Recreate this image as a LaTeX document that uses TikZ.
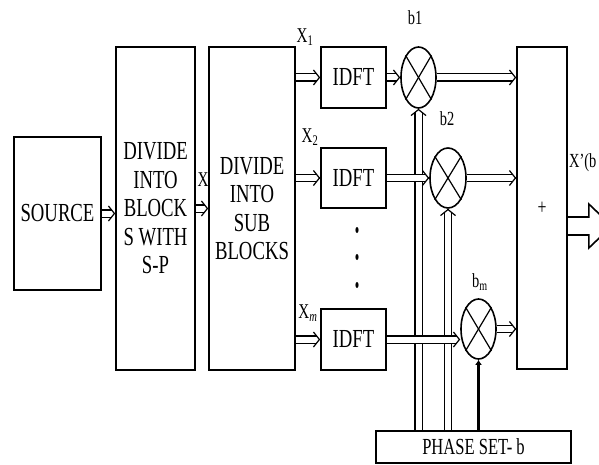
\documentclass[tikz,border=0pt]{standalone}
\usepackage{fontspec}
\setmainfont{Liberation Serif}[FakeStretch=0.72]
\usetikzlibrary{arrows.meta,shapes.geometric,calc}
\tikzset{
  dl/.style={double,line width=1.2pt,double distance=6pt,shorten >=3pt},
  chev/.style={line width=1.2pt,-{Straight Barb[length=6pt,width=15pt]}}
}
\newcommand\darrow[2]{%
  \draw[dl] (#1) -- (#2);
  \draw[chev] ($(#2)!0.2pt!(#1)$) -- (#2);}
\begin{document}
\begin{tikzpicture}[x=1pt,y=-1pt,
  blk/.style={draw,line width=1.6pt,rectangle,inner sep=0pt,align=center,font=\fontsize{26}{28.5}\selectfont},
  mul/.style={draw,line width=1.6pt,ellipse,inner sep=0pt},
  lbl/.style={inner sep=0pt,font=\fontsize{21}{22}\selectfont},
  blbl/.style={inner sep=0pt,font=\fontsize{20}{22}\selectfont}]
\useasboundingbox (0,0) rectangle (599,465);
% blocks
\node[blk,minimum width=87pt,minimum height=153pt] (src) at (57.5,213.5) {SOURCE};
\node[blk,minimum width=79pt,minimum height=323pt] (blocks) at (155.5,208.5) {DIVIDE\\INTO\\BLOCK\\S WITH\\S-P};
\node[blk,minimum width=86pt,minimum height=323pt] (sub) at (252,208.5) {DIVIDE\\INTO\\SUB\\BLOCKS};
\node[blk,minimum width=65pt,minimum height=61pt] (idft1) at (353.5,77.5) {IDFT};
\node[blk,minimum width=65pt,minimum height=60pt] (idft2) at (353.5,178) {IDFT};
\node[blk,minimum width=65pt,minimum height=61pt] (idftm) at (353.5,339.5) {IDFT};
\node[mul,minimum width=35pt,minimum height=61pt] (b1) at (418.5,77.5) {};
\node[mul,minimum width=36pt,minimum height=60pt] (b2) at (448,178) {};
\node[mul,minimum width=35pt,minimum height=60pt] (bm) at (478.5,329) {};
\node[blk,minimum width=50pt,minimum height=322pt,font=\fontsize{22}{24}\selectfont] (plus) at (542,208) {+};
\node[blk,minimum width=195pt,minimum height=32pt,font=\fontsize{23}{24}\selectfont] (phase) at (473.5,447) {PHASE SET- b};
% crosses
\foreach \m in {b1,b2,bm}{
  \draw[line width=1.2pt] (\m.north west) -- (\m.south east);
  \draw[line width=1.2pt] (\m.north east) -- (\m.south west);
}
% dots
\fill (357,230) ellipse (1.6pt and 3pt);
\fill (357,257) ellipse (1.6pt and 3pt);
\fill (357,285) ellipse (1.6pt and 3pt);
% phase lines
\coordinate (p1) at (phase.north -| b1.south);
\coordinate (p2) at (phase.north -| b2.south);
\darrow{p1}{b1.south}
\darrow{p2}{b2.south}
\draw[line width=3.5pt,-{Latex[length=5pt,width=7pt]}] (phase.north -| bm.south) -- (bm.south);
% arrows
\coordinate (s0) at (blocks.west |- src.east);
\coordinate (s1) at (sub.east |- idft1.west);
\coordinate (s2) at (sub.east |- idft2.west);
\coordinate (sm) at (sub.east |- idftm.west);
\coordinate (em) at (idftm.east -| bm.west);
\coordinate (q1) at (plus.west |- b1.east);
\coordinate (q2) at (plus.west |- b2.east);
\coordinate (qm) at (plus.west |- bm.east);
\darrow{src.east}{s0}
\darrow{blocks.east}{sub.west}
\darrow{s1}{idft1.west}
\darrow{s2}{idft2.west}
\darrow{sm}{idftm.west}
\darrow{idft1.east}{b1.west}
\darrow{idft2.east}{b2.west}
\darrow{idftm.east}{em}
\darrow{b1.east}{q1}
\darrow{b2.east}{q2}
\darrow{bm.east}{qm}
% output arrow
\coordinate (o) at (plus.east);
\draw[line width=1.6pt] ([yshift=-9pt]o) -- ++(21,0) -- ++(0,-13) -- ++(23,22) -- ++(-23,22) -- ++(0,-13) -- ++(-21,0);
% labels
\node[lbl] (lx) at (203,180) {X};
\node[lbl] (lx1) at (305,37) {X\textsubscript{1}};
\node[lbl] (lx2) at (310,137) {X\textsubscript{2}};
\node[lbl] (lxm) at (308,313) {X\textsubscript{\textit{m}}};
\node[blbl] (lb1) at (415,18) {b1};
\node[blbl] (lb2) at (447,119) {b2};
\node[blbl] (lbm) at (480,282) {b\textsubscript{m}};
\node[blbl,anchor=west] (lout) at (569,163) {X’(b};
\end{tikzpicture}
\end{document}
